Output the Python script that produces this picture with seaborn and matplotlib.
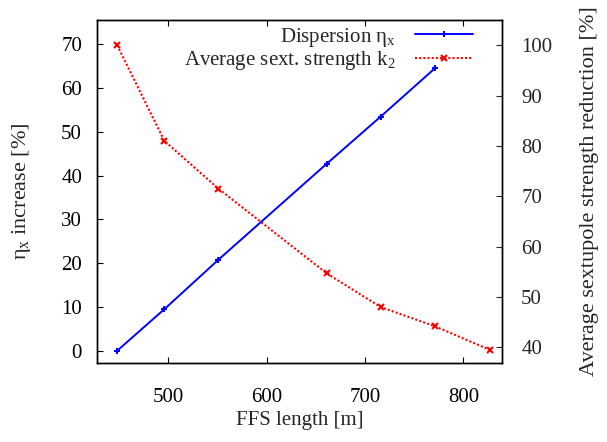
import matplotlib
matplotlib.use("Agg")
import matplotlib.pyplot as plt
import seaborn as sns
import pandas as pd

# Data
ffs_disp = [448, 496, 551, 661, 716, 771]
eta_increase = [0.0, 9.5, 20.8, 42.7, 53.5, 64.5]
ffs_sext = [448, 496, 551, 661, 716, 771, 827]
sext_reduction = [100.0, 81.0, 71.5, 54.7, 48.0, 44.2, 39.5]
xticks = [500, 600, 700, 800]
yticks_left = [0, 10, 20, 30, 40, 50, 60, 70]
yticks_right = [40, 50, 60, 70, 80, 90, 100]

sns.set_style("ticks")
plt.rcParams["font.family"] = ["Liberation Serif", "DejaVu Serif"]
plt.rcParams["mathtext.fontset"] = "custom"
plt.rcParams["mathtext.rm"] = "Liberation Serif"
plt.rcParams["mathtext.it"] = "Liberation Serif"
plt.rcParams["mathtext.bf"] = "Liberation Serif:bold"

fs = 15
lfs = 16
fig = plt.figure(figsize=(6.07, 4.42), dpi=100)
ax = fig.add_axes([97.3 / 607, 1 - 363 / 442, (501.7 - 97.3) / 607, (363 - 20) / 442])
ax2 = ax.twinx()

df1 = pd.DataFrame({"x": ffs_disp, "y": eta_increase})
df2 = pd.DataFrame({"x": ffs_sext, "y": sext_reduction})

sns.lineplot(data=df1, x="x", y="y", ax=ax, color="#0000ff", linewidth=1.4,
             marker="+", markersize=4, markeredgewidth=1.5, markeredgecolor="#0000ff",
             label=r"Dispersion $\eta_{x}$", legend=False)
sns.lineplot(data=df2, x="x", y="y", ax=ax2, color="#ff0000", linewidth=1.5,
             linestyle=(0, (1, 1)), marker="x", markersize=4, markeredgewidth=1.5,
             markeredgecolor="#ff0000",
             label=r"Average sext. strength k$_{2}$", legend=False)

ax.set_xlim(427.8, 839)
ax.set_ylim(-2.8, 75.55)
ax2.set_ylim(36.9, 105)

ax.set_xticks(xticks)
ax.set_yticks(yticks_left)
ax2.set_yticks(yticks_right)

ax.set_xlabel("FFS length [m]", fontsize=fs, labelpad=3)
ax.set_ylabel(r"$\eta_{x}$ increase [%]", fontsize=lfs, labelpad=20)
ax2.set_ylabel("Average sextupole strength reduction [%]", fontsize=lfs, labelpad=20)

ax.tick_params(axis="both", direction="in", labelsize=fs, length=4, width=0.8,
               top=True, right=False, colors="black")
ax.tick_params(axis="x", pad=18)
ax.tick_params(axis="y", pad=11)
ax2.tick_params(axis="y", direction="in", labelsize=fs, length=4, width=0.8,
                left=False, right=True, pad=14)
for a in (ax, ax2):
    for s in a.spines.values():
        s.set_visible(True)
        s.set_linewidth(1.0)
        s.set_color("black")

h1, l1 = ax.get_legend_handles_labels()
h2, l2 = ax2.get_legend_handles_labels()
leg = ax2.legend(h1 + h2, l1 + l2, loc="upper right", bbox_to_anchor=(0.96, 1.02),
                 frameon=False, markerfirst=False, fontsize=fs, handlelength=2.8,
                 labelspacing=0.02, handletextpad=0.9, borderaxespad=0.2)
for t in leg.get_texts():
    t.set_ha("right")

fig.savefig("out.png", dpi=100)
